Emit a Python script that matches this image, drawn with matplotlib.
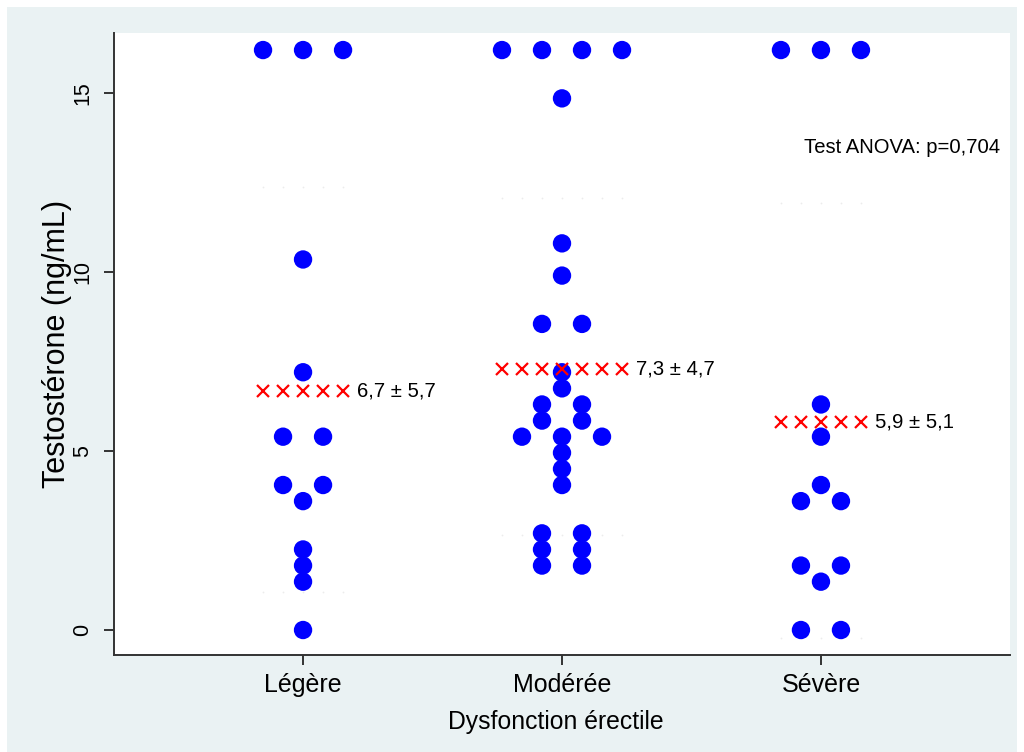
import matplotlib
matplotlib.use("Agg")
import matplotlib.pyplot as plt
from matplotlib.patches import Rectangle
from collections import Counter

plt.rcParams['font.family'] = ['Liberation Sans', 'DejaVu Sans']

# ---------------- data ----------------
categories = ["Légère", "Modérée", "Sévère"]
legere_values = [16.2, 16.2, 16.2, 10.35, 7.2, 5.4, 5.4, 4.05, 4.05, 3.6,
                 2.25, 1.8, 1.35, 0.0]
moderee_values = [16.2, 16.2, 16.2, 16.2, 14.85, 10.8, 9.9, 8.55, 8.55, 7.2,
                  6.75, 6.3, 6.3, 5.85, 5.85, 5.4, 5.4, 5.4, 4.95, 4.5, 4.05,
                  2.7, 2.7, 2.25, 2.25, 1.8, 1.8]
severe_values = [16.2, 16.2, 16.2, 6.3, 5.4, 4.05, 3.6, 3.6, 1.8, 1.8, 1.35,
                 0.0, 0.0]
mean_marks = [6.68, 7.29, 5.81]
mean_labels = ["6,7 ± 5,7", "7,3 ± 4,7", "5,9 ± 5,1"]
sd_upper = [12.37, 12.07, 11.93]
sd_lower = [1.05, 2.65, -0.22]
yticks = [0, 5, 10, 15]
test_label = "Test ANOVA: p=0,704"

groups = [legere_values, moderee_values, severe_values]

# ---------------- figure ----------------
fig = plt.figure(figsize=(10.24, 7.52), dpi=100)
fig.patch.set_facecolor("white")
bg = Rectangle((7 / 1024, 0), 1 - 14 / 1024, 1 - 7 / 752,
               transform=fig.transFigure, facecolor="#EAF2F3",
               edgecolor="none", zorder=-10)
fig.add_artist(bg)

ax = fig.add_axes([114 / 1024, 1 - 655 / 752, 896 / 1024, 622 / 752])
ax.set_zorder(1)
ax.set_facecolor("white")

spacing = 0.1545  # horizontal distance between stacked dots

for i, vals in enumerate(groups):
    center = i + 1
    counts = Counter(vals)
    xs, ys = [], []
    for v, n in counts.items():
        for k in range(n):
            xs.append(center + (k - (n - 1) / 2) * spacing)
            ys.append(v)
    ax.scatter(xs, ys, s=175, color="#0000FF", edgecolors="none", zorder=3)

    max_n = max(counts.values())
    n_cross = 2 * max_n - 1
    cx = [center + (j - (n_cross - 1) / 2) * spacing / 2 for j in range(n_cross)]
    ax.plot(cx, [mean_marks[i]] * n_cross, linestyle="none", marker="x",
            markersize=9, markeredgewidth=1.6, color="#FF0000", zorder=4)
    ax.plot(cx, [sd_upper[i]] * n_cross, linestyle="none", marker="o",
            markersize=1.3, color="#ECECEC", markeredgewidth=0, zorder=2)
    ax.plot(cx, [sd_lower[i]] * n_cross, linestyle="none", marker="o",
            markersize=1.3, color="#ECECEC", markeredgewidth=0, zorder=2)
    ax.text(cx[-1] + 0.055, mean_marks[i], mean_labels[i], fontsize=14.6,
            ha="left", va="center", color="black", zorder=5)

ax.text(0.9888, 0.8167, test_label, transform=ax.transAxes, fontsize=14.6,
        ha="right", va="center", color="black")

ax.set_xlim(0.27, 3.73)
ax.set_ylim(-0.698, 16.676)
ax.set_xticks([1, 2, 3])
ax.set_xticklabels(categories, fontsize=18)
ax.set_yticks(yticks)
ax.set_yticklabels([str(t) for t in yticks], fontsize=15.5, rotation=90,
                   va="center")

for s in ["top", "right"]:
    ax.spines[s].set_visible(False)
for s in ["left", "bottom"]:
    ax.spines[s].set_color("#333333")
    ax.spines[s].set_linewidth(1.4)
ax.tick_params(axis="both", direction="out", length=7, width=1.4,
               color="#333333")
ax.tick_params(axis="y", pad=8)
ax.tick_params(axis="x", pad=6)

ax.set_ylabel("Testostérone (ng/mL)", fontsize=22)
ax.set_xlabel("Dysfonction érectile", fontsize=17.8)
ax.yaxis.set_label_coords(-0.0636, 0.5)
ax.xaxis.set_label_coords(0.493, -0.1077)
ax.xaxis.label.set_va("center")
ax.yaxis.label.set_va("center")

fig.savefig("out.png", dpi=100, facecolor=fig.get_facecolor())
